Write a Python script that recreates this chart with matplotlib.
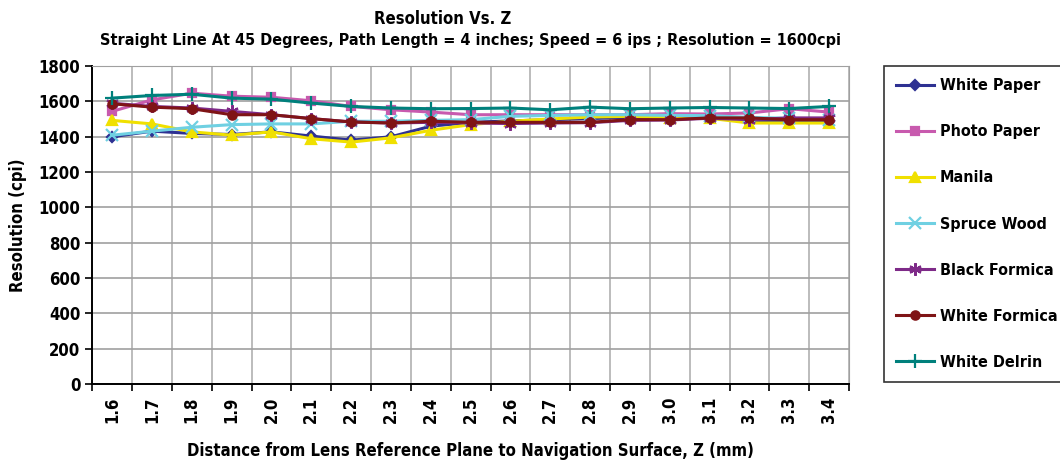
import matplotlib
matplotlib.use('Agg')
from matplotlib import pyplot as plt
import numpy as np

# Data
z_labels = ['1.6', '1.7', '1.8', '1.9', '2.0', '2.1', '2.2', '2.3', '2.4', '2.5',
            '2.6', '2.7', '2.8', '2.9', '3.0', '3.1', '3.2', '3.3', '3.4']

white_paper = [1400, 1432, 1419, 1413, 1428, 1404, 1381, 1400, 1460, 1482,
               1490, 1497, 1503, 1510, 1505, 1507, 1488, 1490, 1488]
photo_paper = [1544, 1609, 1647, 1630, 1624, 1604, 1572, 1553, 1540, 1525,
               1525, 1525, 1525, 1525, 1531, 1529, 1535, 1559, 1540]
manila = [1493, 1473, 1428, 1409, 1428, 1389, 1370, 1394, 1437, 1469,
          1488, 1501, 1512, 1516, 1507, 1505, 1478, 1478, 1478]
spruce_wood = [1409, 1432, 1454, 1469, 1473, 1473, 1488, 1488, 1493, 1497,
               1516, 1521, 1525, 1525, 1521, 1520, 1510, 1505, 1497]
black_formica = [1590, 1572, 1563, 1544, 1525, 1503, 1484, 1478, 1482, 1478,
                 1475, 1478, 1480, 1493, 1495, 1505, 1497, 1507, 1507]
white_formica = [1587, 1568, 1559, 1525, 1525, 1503, 1484, 1478, 1488, 1482,
                 1482, 1482, 1482, 1497, 1497, 1507, 1507, 1497, 1497]
white_delrin = [1619, 1634, 1641, 1619, 1613, 1591, 1572, 1563, 1559, 1560,
                1563, 1553, 1568, 1559, 1563, 1566, 1563, 1560, 1572]

series = [
    ('White Paper', white_paper, '#2E3192', 'D', 5),
    ('Photo Paper', photo_paper, '#C85AAE', 's', 6),
    ('Manila', manila, '#F0E000', '^', 7),
    ('Spruce Wood', spruce_wood, '#6FD0E2', 'x', 8),
    ('Black Formica', black_formica, '#7E2A88', (6, 2, 0), 9),
    ('White Formica', white_formica, '#7F1416', 'o', 6),
    ('White Delrin', white_delrin, '#00807C', '+', 10),
]

# condensed bold face, closest to the original narrow font
plt.rcParams['font.family'] = ['DejaVu Sans']
plt.rcParams['font.stretch'] = 'condensed'
plt.rcParams['font.weight'] = 'bold'

fig = plt.figure(figsize=(10.6, 4.66), dpi=100)
ax = fig.add_axes([0.087, 0.176, 0.714, 0.682])

x = np.arange(len(z_labels))
for name, vals, color, marker, ms in series:
    ax.plot(x, vals, color=color, marker=marker, markersize=ms, linewidth=2.2,
            markeredgewidth=1.6, label=name)

ax.set_xlim(-0.5, len(z_labels) - 0.5)
ax.set_ylim(0, 1800)
ax.set_yticks(np.arange(0, 1801, 200))
ax.set_xticks(x)
ax.set_xticklabels(z_labels, rotation=90, fontsize=12, fontweight='bold')
ax.set_xticks(np.arange(-0.5, len(z_labels), 1), minor=True)
ax.tick_params(axis='x', which='major', length=0, pad=9)
ax.tick_params(axis='x', which='minor', length=5, width=1.2, direction='out')
ax.tick_params(axis='y', length=5, width=1.2, labelsize=12)
for lab in ax.get_yticklabels():
    lab.set_fontweight('bold')

ax.grid(True, axis='y', which='major', color='#A0A0A0', linewidth=1.2)
ax.grid(True, axis='x', which='minor', color='#B0B0B0', linewidth=1.2)
ax.set_axisbelow(True)
ax.spines['top'].set_color('#A0A0A0')
ax.spines['right'].set_color('#A0A0A0')
ax.spines['left'].set_linewidth(1.4)
ax.spines['bottom'].set_linewidth(1.4)

ax.set_ylabel('Resolution (cpi)', fontsize=12, fontweight='bold', labelpad=8)
ax.set_xlabel('Distance from Lens Reference Plane to Navigation Surface, Z (mm)',
              fontsize=12, fontweight='bold', labelpad=14)
fig.text(0.418, 0.978, 'Resolution Vs. Z', ha='center', va='top',
         fontsize=12, fontweight='bold')
fig.text(0.444, 0.93,
         'Straight Line At 45 Degrees, Path Length = 4 inches; Speed = 6 ips ; Resolution = 1600cpi',
         ha='center', va='top', fontsize=11.6, fontweight='bold')

leg = fig.legend(loc='upper left', bbox_to_anchor=(0.834, 0.858), frameon=True,
                 fancybox=False, edgecolor='black', fontsize=11.5, labelspacing=1.95,
                 handlelength=2.4, borderpad=0.75, handletextpad=0.35,
                 borderaxespad=0)
leg.get_frame().set_linewidth(1.2)
for t in leg.get_texts():
    t.set_fontweight('bold')

fig.savefig('out.png', dpi=100)
